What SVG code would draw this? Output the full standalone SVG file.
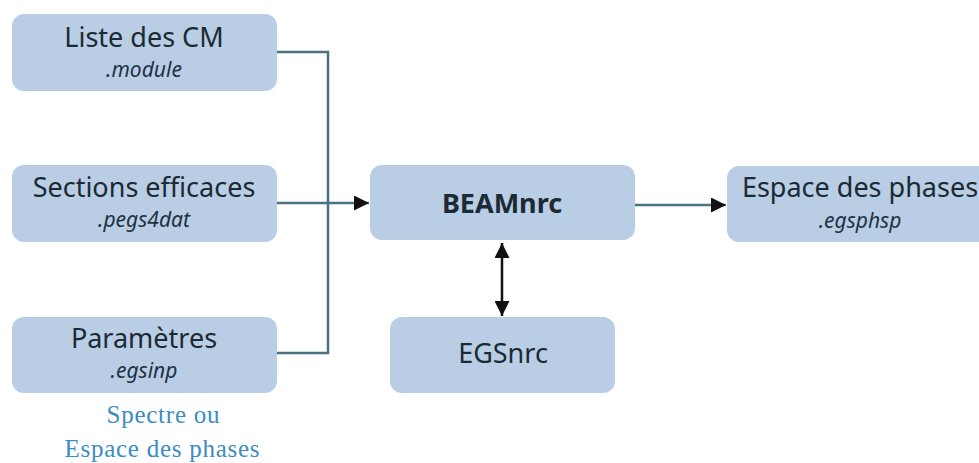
<svg xmlns="http://www.w3.org/2000/svg" width="979" height="463" viewBox="0 0 979 463">
<style>
.box{fill:#b9cde5}
.t{font-family:"Noto Sans","Open Sans",sans-serif;font-size:27px;fill:#1b2a33;text-anchor:middle}
.s{font-family:"Noto Sans","Open Sans",sans-serif;font-size:21px;font-style:italic;fill:#1d3344;text-anchor:middle}
.b{font-weight:bold}
.blue{font-family:"Liberation Serif",serif;font-size:25px;fill:#3a8cc4;text-anchor:middle}
.c{fill:none;stroke:#4a7282;stroke-width:2.5}
.k{fill:none;stroke:#111;stroke-width:2.5}
</style>
<defs>
<marker id="ah" viewBox="0 0 10 10" refX="10" refY="5" markerWidth="6" markerHeight="6" orient="auto-start-reverse" markerUnits="strokeWidth">
<path d="M0,0 L10,5 L0,10 z" fill="#111"/>
</marker>
</defs>
<g id="connectors">
<polyline class="c" points="277,52 328,52 328,353 277,353"/>
<line class="c" x1="277" y1="203" x2="369" y2="203" marker-end="url(#ah)"/>
<line class="c" x1="635" y1="205" x2="726" y2="205" marker-end="url(#ah)"/>
<line class="k" x1="502" y1="243" x2="502" y2="316" marker-start="url(#ah)" marker-end="url(#ah)"/>
</g>
<g id="liste">
<rect class="box" x="12" y="14" width="265" height="77" rx="12"/>
<text class="t" x="144" y="47">Liste des CM</text>
<text class="s" x="144" y="77">.module</text>
</g>
<g id="sections">
<rect class="box" x="12" y="165" width="265" height="77" rx="12"/>
<text class="t" x="144" y="197">Sections efficaces</text>
<text class="s" x="144" y="227">.pegs4dat</text>
</g>
<g id="parametres">
<rect class="box" x="12" y="317" width="265" height="76" rx="12"/>
<text class="t" x="144" y="348">Paramètres</text>
<text class="s" x="144" y="378">.egsinp</text>
<text class="blue" x="163" y="423" textLength="113" lengthAdjust="spacing">Spectre ou</text>
<text class="blue" x="162" y="457" textLength="195" lengthAdjust="spacing">Espace des phases</text>
</g>
<g id="beamnrc">
<rect class="box" x="370" y="165" width="265" height="75" rx="12"/>
<text class="t b" x="502" y="213" font-size="26">BEAMnrc</text>
</g>
<g id="egsnrc">
<rect class="box" x="390" y="317" width="225" height="76" rx="12"/>
<text class="t" x="503" y="363">EGSnrc</text>
</g>
<g id="espace">
<rect class="box" x="727" y="166" width="266" height="76" rx="12"/>
<text class="t" x="860" y="197">Espace des phases</text>
<text class="s" x="860" y="228">.egsphsp</text>
</g>
</svg>
